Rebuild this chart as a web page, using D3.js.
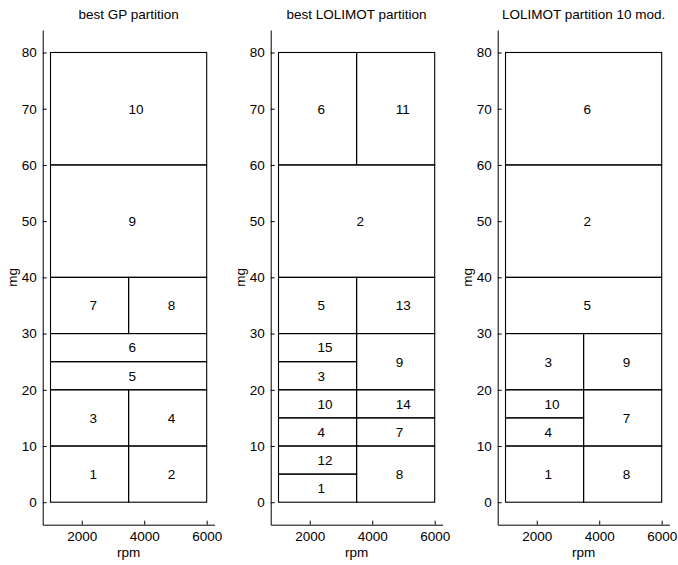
<!DOCTYPE html>
<html><head><meta charset="utf-8">
<script src="https://cdn.jsdelivr.net/npm/d3@7"></script>
<style>body{margin:0;background:#fff}</style>
</head><body>
<script>
// Partition cells: [label, rpmMin, rpmMax, mgMin, mgMax]
const titles = ["best GP partition", "best LOLIMOT partition", "LOLIMOT partition 10 mod."];
const gpCells = [
  ["1",1000,3500,0,10],["2",3500,6000,0,10],["3",1000,3500,10,20],["4",3500,6000,10,20],
  ["5",1000,6000,20,25],["6",1000,6000,25,30],["7",1000,3500,30,40],["8",3500,6000,30,40],
  ["9",1000,6000,40,60],["10",1000,6000,60,80]
];
const lolimotCells = [
  ["6",1000,3500,60,80],["11",3500,6000,60,80],["2",1000,6000,40,60],
  ["5",1000,3500,30,40],["13",3500,6000,30,40],
  ["15",1000,3500,25,30],["3",1000,3500,20,25],["9",3500,6000,20,30],
  ["10",1000,3500,15,20],["14",3500,6000,15,20],
  ["4",1000,3500,10,15],["7",3500,6000,10,15],
  ["12",1000,3500,5,10],["1",1000,3500,0,5],["8",3500,6000,0,10]
];
const lolimot10Cells = [
  ["6",1000,6000,60,80],["2",1000,6000,40,60],["5",1000,6000,30,40],
  ["3",1000,3500,20,30],["9",3500,6000,20,30],
  ["10",1000,3500,15,20],["4",1000,3500,10,15],["7",3500,6000,10,20],
  ["1",1000,3500,0,10],["8",3500,6000,0,10]
];
const panels = [gpCells, lolimotCells, lolimot10Cells];
const xTicks = [2000, 4000, 6000];
const yTicks = [0,10,20,30,40,50,60,70,80];
const xDomain = [750, 6250];
const yDomain = [-4, 84];

const W = 678, H = 565;
const font = "'Liberation Sans', Arial, Helvetica, sans-serif";
const fs = 13.5;
const svg = d3.select("body").append("svg").attr("width", W).attr("height", H)
  .style("font-family", font);

const lefts = [42.7, 270.7, 497.7];
const pw = 171.8, plotTop = 30, plotBottom = 524.7;

panels.forEach((cells, i) => {
  const x = d3.scaleLinear().domain(xDomain).range([lefts[i], lefts[i] + pw]);
  const y = d3.scaleLinear().domain(yDomain).range([plotBottom, plotTop]);
  const g = svg.append("g");

  g.selectAll("rect.cell").data(cells).join("rect")
    .attr("class","cell")
    .attr("x", d => x(d[1])).attr("y", d => y(d[4]))
    .attr("width", d => x(d[2]) - x(d[1])).attr("height", d => y(d[3]) - y(d[4]))
    .attr("fill","none").attr("stroke","#000").attr("stroke-width",1.1);

  g.selectAll("text.lbl").data(cells).join("text")
    .attr("class","lbl")
    .attr("x", d => x((d[1]+d[2])/2)).attr("y", d => y((d[3]+d[4])/2))
    .attr("dy","0.36em").attr("text-anchor","start")
    .attr("font-size", fs).text(d => d[0]);

  const ax = g.append("g").attr("transform", `translate(0,${plotBottom})`)
    .call(d3.axisBottom(x).tickValues(xTicks).tickFormat(d3.format("d")).tickSizeInner(-4).tickSizeOuter(0).tickPadding(7));
  const ay = g.append("g").attr("transform", `translate(${lefts[i]},0)`)
    .call(d3.axisLeft(y).tickValues(yTicks).tickSizeInner(-4).tickSizeOuter(0).tickPadding(6));
  [ax, ay].forEach(a => {
    a.selectAll("text").attr("font-size", fs).attr("fill","#000").style("font-family", font);
    a.selectAll("line,path").attr("stroke","#000").attr("stroke-width",1);
  });

  g.append("text").attr("x", lefts[i] + pw/2).attr("y", 19)
    .attr("text-anchor","middle").attr("font-size", fs).text(titles[i]);
  g.append("text").attr("x", lefts[i] + pw/2).attr("y", 557)
    .attr("text-anchor","middle").attr("font-size", fs).text("rpm");
  g.append("text").attr("transform", `translate(${lefts[i]-26},${(plotTop+plotBottom)/2}) rotate(-90)`)
    .attr("text-anchor","middle").attr("font-size", fs).text("mg");
});
</script>
</body></html>
